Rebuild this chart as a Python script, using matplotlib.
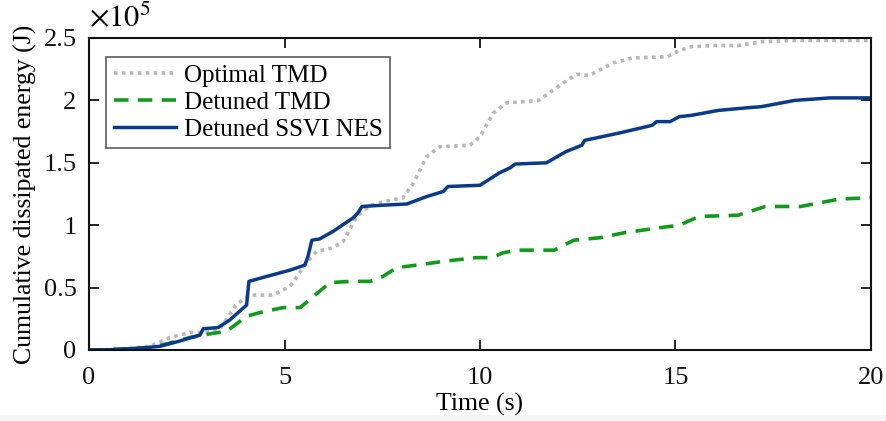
import matplotlib
matplotlib.use("Agg")
import matplotlib.pyplot as plt

plt.rcParams['font.family'] = ['Liberation Serif', 'DejaVu Serif']
plt.rcParams['mathtext.fontset'] = 'stix'

# Optimal TMD (gray dotted), energy in 1e5 J
t_opt = [0, 0.5, 1.0, 1.56, 2.07, 2.58, 3.0, 3.35, 3.78, 4.12, 4.7, 5.14, 5.57, 5.82, 6.25, 6.5, 6.85, 7.19, 7.7, 8.03, 8.3, 8.64, 8.98, 9.74, 10.0, 10.34, 10.68, 11.5, 12.13, 12.47, 12.8, 13.4, 13.9, 14.8, 15.1, 15.4, 16.0, 16.6, 17.2, 18.0, 19.0, 20.0]
e_opt = [0, 0.003, 0.01, 0.03, 0.10, 0.14, 0.14, 0.17, 0.37, 0.44, 0.44, 0.51, 0.70, 0.79, 0.82, 0.87, 1.07, 1.16, 1.20, 1.22, 1.34, 1.55, 1.63, 1.64, 1.71, 1.90, 1.98, 2.00, 2.14, 2.21, 2.20, 2.30, 2.34, 2.35, 2.40, 2.43, 2.44, 2.44, 2.47, 2.48, 2.48, 2.48]

# Detuned TMD (green dashed)
t_det = [0, 0.5, 1.0, 1.56, 2.0, 2.58, 3.1, 3.52, 4.03, 4.37, 4.97, 5.4, 5.82, 6.16, 6.7, 7.19, 7.52, 7.87, 8.38, 9.06, 9.9, 10.3, 10.6, 11.0, 11.9, 12.4, 13.07, 13.7, 14.6, 15.1, 15.6, 16.6, 17.3, 18.2, 18.7, 19.2, 20.0]
e_det = [0, 0.003, 0.01, 0.02, 0.05, 0.10, 0.13, 0.15, 0.27, 0.30, 0.34, 0.34, 0.45, 0.54, 0.55, 0.55, 0.59, 0.66, 0.68, 0.71, 0.74, 0.74, 0.78, 0.80, 0.80, 0.88, 0.90, 0.94, 0.98, 1.00, 1.07, 1.08, 1.15, 1.15, 1.18, 1.21, 1.22]

# Detuned SSVI NES (blue solid)
t_nes = [0, 0.5, 1.0, 1.5, 1.82, 2.3, 2.84, 2.92, 3.3, 3.6, 4.03, 4.09, 4.55, 5.14, 5.52, 5.6, 5.7, 5.9, 6.24, 6.76, 6.88, 6.98, 7.5, 8.13, 8.64, 9.06, 9.18, 10.0, 10.5, 10.77, 10.9, 11.7, 12.2, 12.6, 12.68, 13.58, 14.4, 14.52, 14.86, 15.1, 15.4, 16.1, 16.8, 17.2, 18.05, 18.95, 20.0]
e_nes = [0, 0.002, 0.01, 0.02, 0.03, 0.07, 0.12, 0.17, 0.18, 0.24, 0.36, 0.55, 0.59, 0.64, 0.68, 0.75, 0.88, 0.89, 0.95, 1.06, 1.10, 1.15, 1.16, 1.17, 1.23, 1.27, 1.31, 1.32, 1.42, 1.46, 1.49, 1.50, 1.59, 1.64, 1.68, 1.74, 1.80, 1.83, 1.83, 1.87, 1.88, 1.92, 1.94, 1.95, 2.00, 2.02, 2.02]

labels = ['Optimal TMD', 'Detuned TMD', 'Detuned SSVI NES']
x_ticks = [0, 5, 10, 15, 20]
y_ticks = [0, 0.5, 1, 1.5, 2, 2.5]
y_ticklabels = ['0', '0.5', '1', '1.5', '2', '2.5']

fig = plt.figure(figsize=(8.86, 4.21), dpi=100)
fig.patches.append(plt.Rectangle((0, 0), 1, 6/421, transform=fig.transFigure,
                                 facecolor='#f5f5f5', edgecolor='none', zorder=-10))
ax = fig.add_axes([89/886, 1 - 350/421, (871 - 89)/886, (350 - 38)/421])

ax.plot(t_opt, e_opt, color='#b8b8b8', linestyle=(0, (1.0, 1.2)), linewidth=2.6, label=labels[0])
ax.plot(t_det, e_det, color='#119a1b', linestyle=(0, (4.0, 2.6)), linewidth=2.6, label=labels[1])
ax.plot(t_nes, e_nes, color='#0a3a8a', linestyle='-', linewidth=2.5, label=labels[2])

ax.set_xlim(0, 20)
ax.set_ylim(0, 2.5)
ax.set_xticks(x_ticks)
ax.set_xticklabels([str(v) for v in x_ticks])
ax.set_yticks(y_ticks)
ax.set_yticklabels(y_ticklabels)
ax.tick_params(direction='in', length=7, width=1.3, labelsize=19, top=True, right=True,
               colors='#111111')
ax.tick_params(axis='x', pad=12)
ax.tick_params(axis='y', pad=9)
for s in ax.spines.values():
    s.set_linewidth(1.5)
    s.set_color('#111111')

ax.set_xlabel('Time (s)', fontsize=18.5, labelpad=3)
ax.set_ylabel('Cumulative dissipated energy (J)', fontsize=18.5, labelpad=5)
ax.text(0.0, 1.012, r'$\times10^5$', transform=ax.transAxes, fontsize=22, ha='left', va='bottom')

leg = ax.legend(loc='upper left', bbox_to_anchor=(0.022, 0.94), fontsize=18, frameon=True,
                fancybox=False, edgecolor='#333333', handlelength=2.5, handletextpad=0.3,
                borderpad=0.3, labelspacing=0.18, borderaxespad=0)
leg.get_frame().set_linewidth(1.2)

fig.savefig('out.png', dpi=100)
